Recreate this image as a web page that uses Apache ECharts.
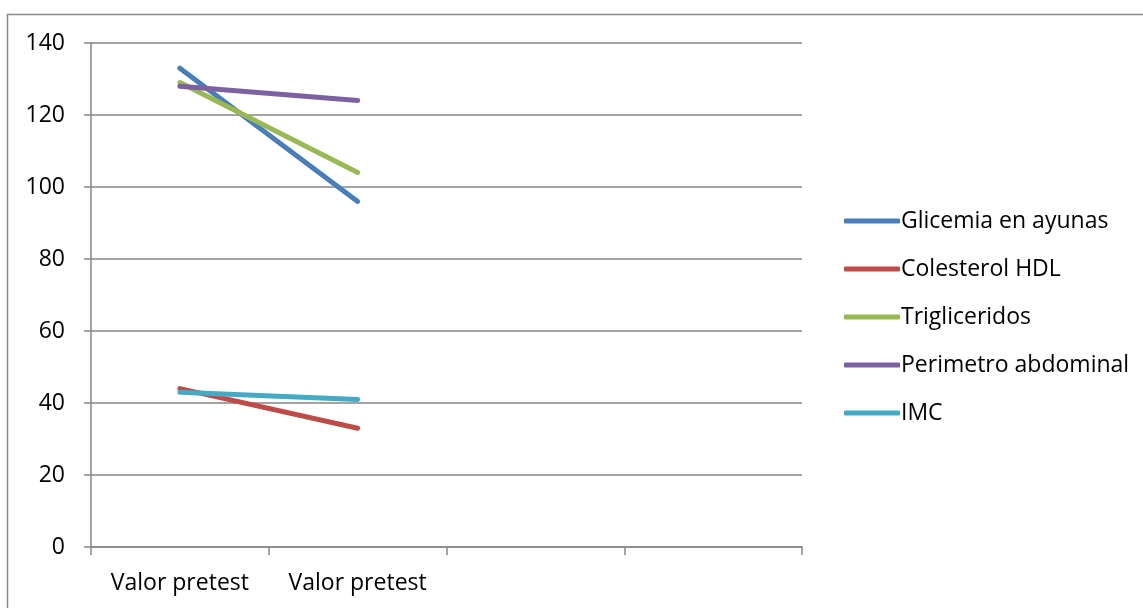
<!DOCTYPE html>
<html><head><meta charset="utf-8">
<script src="https://cdn.jsdelivr.net/npm/echarts@6/dist/echarts.min.js"></script>
<style>html,body{margin:0;padding:0;background:#fff}#c{width:1143px;height:608px}</style>
</head><body><div id="c"></div>
<script>
const categories = ['Valor pretest', 'Valor pretest', '', ''];
const seriesNames = ['Glicemia en ayunas', 'Colesterol HDL', 'Trigliceridos', 'Perimetro abdominal', 'IMC'];
const glicemia = [133, 96, null, null];
const colesterol = [44, 33, null, null];
const trigliceridos = [129, 104, null, null];
const perimetro = [128, 124, null, null];
const imc = [43, 41, null, null];
const colors = ['#4a7ebb', '#be4b48', '#98b954', '#7d60a0', '#46aac5'];
const values = [glicemia, colesterol, trigliceridos, perimetro, imc];
const font = '"Open Sans", "Liberation Sans", sans-serif';

const chart = echarts.init(document.getElementById('c'));
chart.setOption({
  animation: false,
  color: colors,
  graphic: [{
    type: 'rect', shape: {x: 7.5, y: 14.5, width: 1200, height: 700},
    style: {fill: 'none', stroke: '#8a8a8a', lineWidth: 1.5}, silent: true, z: -1
  }],
  grid: {left: 91, right: 341, top: 43, bottom: 61},
  legend: {
    orient: 'vertical', left: 839, top: 204, itemGap: 24,
    itemWidth: 56, itemHeight: 5,
    icon: 'roundRect',
    textStyle: {fontFamily: font, fontSize: 23, lineHeight: 24, color: '#000', padding: [0,0,0,-4]},
    data: seriesNames
  },
  xAxis: {
    type: 'category', data: categories, boundaryGap: true,
    axisLine: {lineStyle: {color: '#868686', width: 1.5}},
    axisTick: {show: true, length: 8, alignWithLabel: false, lineStyle: {color: '#868686', width: 1.5}},
    axisLabel: {fontFamily: font, fontSize: 23, color: '#000', margin: 25, interval: 0}
  },
  yAxis: {
    type: 'value', min: 0, max: 140, interval: 20,
    axisLine: {show: true, lineStyle: {color: '#868686', width: 1.5}},
    axisTick: {show: true, length: 7, lineStyle: {color: '#868686', width: 1.5}},
    axisLabel: {fontFamily: font, fontSize: 23, color: '#000', margin: 26},
    splitLine: {lineStyle: {color: '#868686', width: 1.5}}
  },
  series: seriesNames.map((n, i) => ({
    name: n, type: 'line', data: values[i], showSymbol: false, symbol: 'none',
    lineStyle: {width: 5, cap: 'round', color: colors[i]}, itemStyle: {color: colors[i]},
    connectNulls: false
  }))
});
</script></body></html>
